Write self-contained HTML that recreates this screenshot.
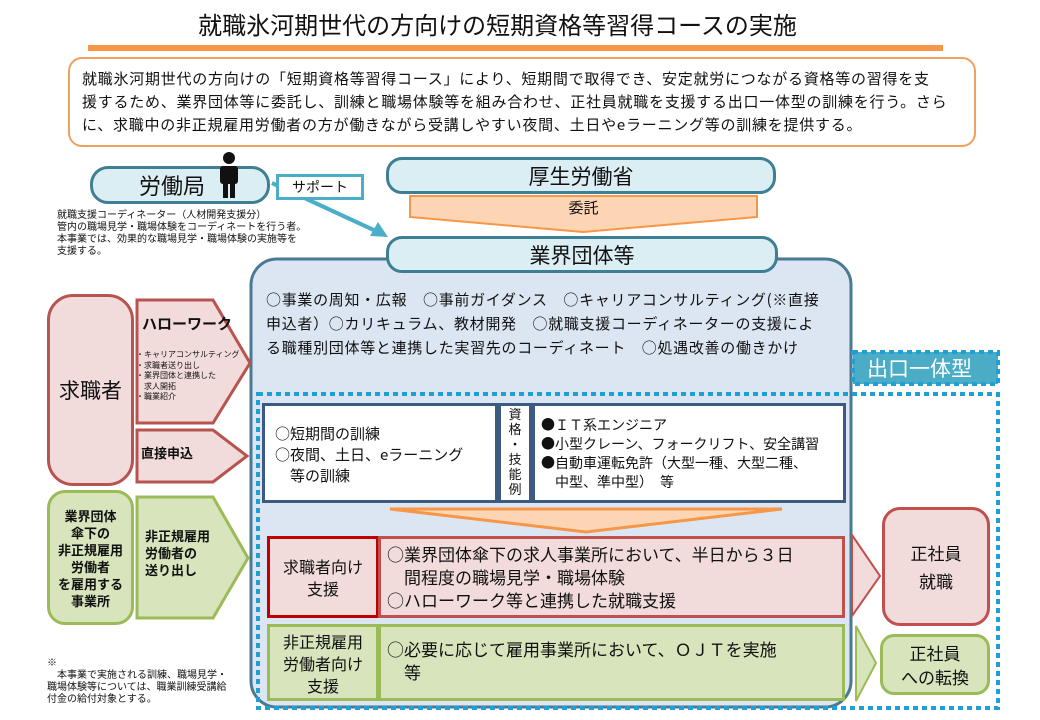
<!DOCTYPE html>
<html><head><meta charset="utf-8"><style>
body{margin:0;width:1040px;height:720px;background:#fff;position:relative;overflow:hidden;font-family:"Noto Sans CJK JP","Liberation Sans",sans-serif;color:#111}
.a{position:absolute;box-sizing:border-box;white-space:nowrap}
.c{display:flex;align-items:center;justify-content:center;text-align:center}
</style></head><body>
<svg class="a" style="left:0;top:0" width="1040" height="720">
<rect x="88" y="45" width="855" height="6" fill="#f79646"/>
<rect x="251" y="259" width="600" height="448" rx="26" fill="#dce6f2" stroke="#4a7a92" stroke-width="3"/>
<path d="M258 394 H998 V708 H258 Z" fill="none" stroke="#1ea0d6" stroke-width="4" stroke-dasharray="5 4"/>
<rect x="853" y="352" width="145" height="32" fill="#4bacc6" stroke="#1ea0d6" stroke-width="4" stroke-dasharray="5 4"/>
<polygon points="410,196 757,196 757,217 583,232 410,217" fill="#fcd5b4" stroke="#f79646" stroke-width="2"/>
<line x1="272" y1="183" x2="378" y2="232" stroke="#4aaec8" stroke-width="4"/>
<polygon points="388,237 370,236 378,222" fill="#4aaec8"/>
<polygon points="137,300 213,300 250,363 213,423 137,423" fill="#f2dcdb" stroke="#b85450" stroke-width="3"/>
<polygon points="137,430 213,430 247,456 213,482 137,482" fill="#f2dcdb" stroke="#b85450" stroke-width="3"/>
<polygon points="137,497 213,497 248,558 213,618 137,618" fill="#d7e4bc" stroke="#9bbb59" stroke-width="3"/>
<polygon points="390,509 782,509 586,532" fill="#fcd5b4" stroke="#f79646" stroke-width="3"/>
<polygon points="852,535 880,576 852,616" fill="#f2dcdb" stroke="#c0504d" stroke-width="2"/>
<polygon points="856,626 876,663 856,701" fill="#d7e4bc" stroke="#9bbb59" stroke-width="2"/>
</svg>
<div class="a c" style="left:0;top:6px;width:995px;font-size:24px">就職氷河期世代の方向けの短期資格等習得コースの実施</div>
<div class="a" style="left:68px;top:57px;width:908px;height:90px;border:2px solid #f0a060;border-radius:14px;padding:8px 0 0 12px;font-size:15px;line-height:23px;letter-spacing:0.75px">就職氷河期世代の方向けの「短期資格等習得コース」により、短期間で取得でき、安定就労につながる資格等の習得を支<br>援するため、業界団体等に委託し、訓練と職場体験等を組み合わせ、正社員就職を支援する出口一体型の訓練を行う。さら<br>に、求職中の非正規雇用労働者の方が働きながら受講しやすい夜間、土日やeラーニング等の訓練を提供する。</div>
<div class="a" style="left:90px;top:166px;width:180px;height:38px;background:#dbeef4;border:3px solid #3e7f93;border-radius:18px;padding:0 0 0 46px;font-size:22px;line-height:32px">労働局</div>
<svg class="a" style="left:210px;top:150px" width="40" height="50"><circle cx="19" cy="8" r="6" fill="#111"/><rect x="10" y="16" width="18" height="18" rx="3" fill="#111"/><rect x="13" y="30" width="5" height="18" fill="#111"/><rect x="20" y="30" width="5" height="18" fill="#111"/></svg>
<div class="a c" style="left:276px;top:174px;width:88px;height:26px;background:#fff;border:3px solid #4aaec8;font-size:14px">サポート</div>
<div class="a" style="left:57px;top:208px;font-size:10px;line-height:12px">就職支援コーディネーター（人材開発支援分）<br>管内の職場見学・職場体験をコーディネートを行う者。<br>本事業では、効果的な職場見学・職場体験の実施等を<br>支援する。</div>
<div class="a c" style="left:386px;top:157px;width:390px;height:37px;background:#dbeef4;border:3px solid #3e7f93;border-radius:16px;font-size:21px">厚生労働省</div>
<div class="a c" style="left:410px;top:197px;width:347px;height:20px;font-size:15px">委託</div>
<div class="a c" style="left:386px;top:236px;width:392px;height:37px;background:#dbeef4;border:3px solid #3e7f93;border-radius:16px;font-size:21px">業界団体等</div>
<div class="a" style="left:266px;top:288px;font-size:15px;line-height:24px;letter-spacing:0.7px">○事業の周知・広報　○事前ガイダンス　○キャリアコンサルティング(※直接<br>申込者）○カリキュラム、教材開発　○就職支援コーディネーターの支援によ<br>る職種別団体等と連携した実習先のコーディネート　○処遇改善の働きかけ</div>
<div class="a" style="left:853px;top:352px;width:145px;height:32px;color:#fff;font-size:21px;line-height:32px;padding:0 0 0 14px">出口一体型</div>
<div class="a" style="left:262px;top:403px;width:236px;height:100px;background:#fff;border:3px solid #3c5a82;padding:17px 0 0 10px;font-size:15px;line-height:21px">○短期間の訓練<br>○夜間、土日、eラーニング<br>　等の訓練</div>
<div class="a" style="left:498px;top:403px;width:34px;height:100px;background:#3c5a82;padding:3px 3px"><div style="background:#fff;height:94px;font-size:13px;line-height:15px;text-align:center">資<br>格<br>・<br>技<br>能<br>例</div></div>
<div class="a" style="left:532px;top:403px;width:314px;height:100px;background:#fff;border:3px solid #3c5a82;padding:10px 0 0 6px;font-size:14px;line-height:19px">●ＩＴ系エンジニア<br>●小型クレーン、フォークリフト、安全講習<br>●自動車運転免許（大型一種、大型二種、<br>　中型、準中型）　等</div>
<div class="a c" style="left:267px;top:536px;width:112px;height:82px;background:#f2dcdb;border:3px solid #c00000;font-size:16px;line-height:22px">求職者向け<br>支援</div>
<div class="a" style="left:378px;top:536px;width:467px;height:82px;background:#f2dcdb;border:3px solid #c0504d;padding:3px 0 0 6px;font-size:17px;line-height:23px">○業界団体傘下の求人事業所において、半日から３日<br>　間程度の職場見学・職場体験<br>○ハローワーク等と連携した就職支援</div>
<div class="a c" style="left:267px;top:624px;width:112px;height:77px;background:#d7e4bc;border:3px solid #9bbb59;font-size:16px;line-height:22px">非正規雇用<br>労働者向け<br>支援</div>
<div class="a" style="left:378px;top:624px;width:467px;height:77px;background:#d7e4bc;border:3px solid #9bbb59;padding:10px 0 0 6px;font-size:17px;line-height:23px">○必要に応じて雇用事業所において、ＯＪＴを実施<br>　等</div>
<div class="a c" style="left:882px;top:507px;width:108px;height:119px;background:#f2dcdb;border:3px solid #c0504d;border-radius:18px;font-size:17px;line-height:28px">正社員<br>就職</div>
<div class="a c" style="left:880px;top:634px;width:110px;height:61px;background:#d7e4bc;border:3px solid #9bbb59;border-radius:14px;font-size:17px;line-height:24px">正社員<br>への転換</div>
<div class="a c" style="left:47px;top:294px;width:87px;height:192px;background:#f2dcdb;border:3px solid #b85450;border-radius:26px;font-size:21px">求職者</div>
<div class="a" style="left:142px;top:313px;font-size:15px;font-weight:bold">ハローワーク</div>
<div class="a" style="left:136px;top:350px;font-size:8px;line-height:10.5px">・キャリアコンサルティング<br>・求職者送り出し<br>・業界団体と連携した<br>　求人開拓<br>・職業紹介</div>
<div class="a" style="left:141px;top:443px;font-size:13px;font-weight:bold">直接申込</div>
<div class="a c" style="left:47px;top:490px;width:87px;height:135px;background:#d7e4bc;border:3px solid #9bbb59;border-radius:18px;font-size:13px;font-weight:bold;line-height:17px">業界団体<br>傘下の<br>非正規雇用<br>労働者<br>を雇用する<br>事業所</div>
<div class="a" style="left:145px;top:527px;font-size:13px;font-weight:bold;line-height:17px">非正規雇用<br>労働者の<br>送り出し</div>
<div class="a" style="left:47px;top:656px;font-size:10px;line-height:12px">※<br>　本事業で実施される訓練、職場見学・<br>職場体験等については、職業訓練受講給<br>付金の給付対象とする。</div>
</body></html>
